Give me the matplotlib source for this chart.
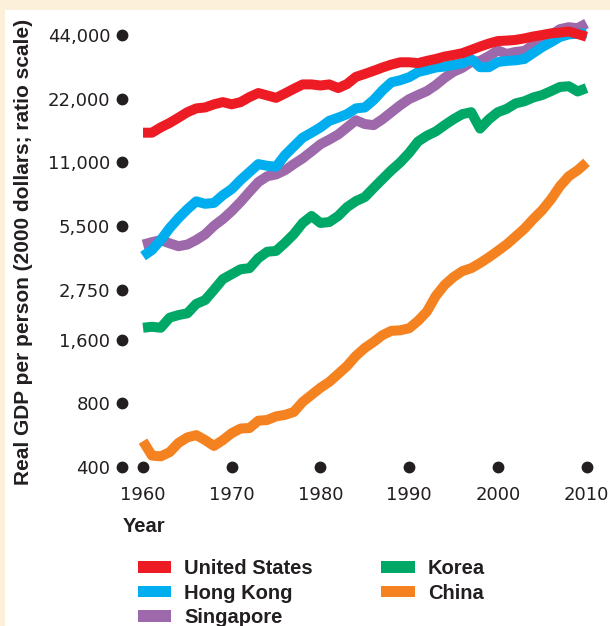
import matplotlib
matplotlib.use("Agg")
import matplotlib.pyplot as plt
from matplotlib.patches import Patch, Rectangle
from matplotlib.ticker import FixedLocator, NullLocator

years = list(range(1960, 2011))

united_states = [15200, 15200, 16100, 16900, 17900, 19000, 19800, 20000, 20700, 21200,
                 20700, 21200, 22400, 23400, 22800, 22200, 23300, 24500, 25700, 25700,
                 25400, 25700, 24700, 25800, 27900, 28800, 29800, 30900, 31900, 32700,
                 32700, 32400, 33200, 33900, 34800, 35400, 36100, 37400, 38800, 40100,
                 41200, 41400, 41700, 42400, 43300, 44000, 44800, 45200, 45700, 44500,
                 43200]

hong_kong = [3970, 4240, 4730, 5380, 6000, 6610, 7200, 7010, 7080, 7700,
             8230, 9080, 9900, 10800, 10600, 10500, 11900, 13100, 14400, 15200,
             16100, 17300, 17900, 18600, 19800, 20000, 21700, 24100, 26300, 26900,
             27800, 29400, 30100, 30900, 31200, 31800, 32300, 33900, 31000, 31000,
             32800, 33200, 33400, 33900, 36200, 38600, 40700, 43100, 44300, 44600,
             44900]

singapore = [4500, 4620, 4720, 4560, 4420, 4500, 4730, 5030, 5520, 5940,
             6480, 7160, 7990, 8880, 9460, 9650, 10100, 10800, 11500, 12400,
             13400, 14100, 14900, 16100, 17400, 16700, 16500, 17600, 19000, 20500,
             21900, 22900, 23900, 25500, 27600, 29500, 30800, 32800, 33200, 35000,
             37200, 35800, 36600, 37000, 39500, 41700, 44000, 46900, 47900, 47400,
             49900]

korea = [1820, 1840, 1820, 2030, 2090, 2130, 2360, 2460, 2750, 3090,
         3260, 3440, 3480, 3880, 4160, 4200, 4580, 5040, 5690, 6140,
         5690, 5750, 6140, 6760, 7220, 7540, 8330, 9180, 10100, 11000,
         12200, 13800, 14700, 15400, 16500, 17600, 18600, 19000, 15900, 17600,
         19000, 19700, 20900, 21400, 22300, 22900, 23900, 25000, 25200, 23800,
         24700]

china = [530, 453, 449, 470, 520, 552, 566, 536, 503, 536,
         578, 608, 611, 662, 667, 694, 705, 728, 812, 877,
         947, 1010, 1100, 1200, 1340, 1460, 1560, 1680, 1760, 1770,
         1810, 1960, 2170, 2570, 2900, 3160, 3370, 3480, 3680, 3920,
         4200, 4510, 4910, 5350, 5940, 6540, 7370, 8490, 9460, 10100,
         11000]

series_names = ["United States", "Hong Kong", "Singapore", "Korea", "China"]
series_values = [united_states, hong_kong, singapore, korea, china]
series_colors = ["#ED1C24", "#00AEEF", "#9E69AA", "#00A867", "#F58220"]

y_ticks = [400, 800, 1600, 2750, 5500, 11000, 22000, 44000]
y_tick_labels = ["400", "800", "1,600", "2,750", "5,500", "11,000", "22,000", "44,000"]
x_ticks = [1960, 1970, 1980, 1990, 2000, 2010]
x_tick_labels = ["1960", "1970", "1980", "1990", "2000", "2010"]

W, H = 610, 626
fig = plt.figure(figsize=(W / 100, H / 100), dpi=100)
fig.patch.set_facecolor("#FDF0DA")
fig.patches.append(Rectangle((5 / W, 0), 1, 1 - 10 / H, transform=fig.transFigure,
                             facecolor="white", edgecolor="none", zorder=-10))

L, R, T, B = 122, 600, 15, 467
ax = fig.add_axes([L / W, 1 - B / H, (R - L) / W, (B - T) / H])
ax.set_zorder(2)
ax.set_facecolor("none")
ax.set_yscale("log")
ax.set_xlim(1957.63, 2011.52)
ax.set_ylim(400, 54700)
for s in ax.spines.values():
    s.set_visible(False)

# draw lines (China first so US sits on top)
order = [4, 3, 2, 1, 0]
for i in order:
    ax.plot(years, series_values[i], color=series_colors[i], lw=7.2,
            solid_joinstyle="round", solid_capstyle="butt", zorder=3 + (4 - i))

# tick dots
xmin = ax.get_xlim()[0]
ax.plot([xmin] * len(y_ticks), y_ticks, "o", color="#231F20", ms=7.5, clip_on=False, zorder=10)
ax.plot(x_ticks, [400] * len(x_ticks), "o", color="#231F20", ms=7.5, clip_on=False, zorder=10)

ax.yaxis.set_major_locator(FixedLocator(y_ticks))
ax.yaxis.set_minor_locator(NullLocator())
ax.set_yticklabels(y_tick_labels)
ax.set_xticks(x_ticks)
ax.set_xticklabels(x_tick_labels)
ax.tick_params(axis="y", length=0, pad=8.5, labelsize=13, labelcolor="#231F20")
ax.tick_params(axis="x", length=0, pad=14, labelsize=13, labelcolor="#231F20")

bold = dict(family="Liberation Sans", fontweight="bold", color="#231F20")
fig.text(144 / W, 1 - 526 / H, "Year", ha="center", va="center", fontsize=14.5, **bold)
fig.text(24 / W, 1 - 252 / H, "Real GDP per person (2000 dollars; ratio scale)",
         rotation=90, ha="center", va="center", fontsize=15, **bold)

handles = [Patch(facecolor=c, edgecolor="none") for c in series_colors]
leg = fig.legend(handles, series_names, ncol=2, loc="upper left",
                 bbox_to_anchor=(138 / W, 1 - 559 / H), frameon=False,
                 prop=dict(family="Liberation Sans", weight="bold", size=14.5),
                 handlelength=1.65, handleheight=0.5, handletextpad=0.65,
                 columnspacing=3.4, labelspacing=0.28, borderpad=0, borderaxespad=0)
for t in leg.get_texts():
    t.set_color("#231F20")

fig.savefig("out.png", dpi=100, facecolor=fig.get_facecolor())
